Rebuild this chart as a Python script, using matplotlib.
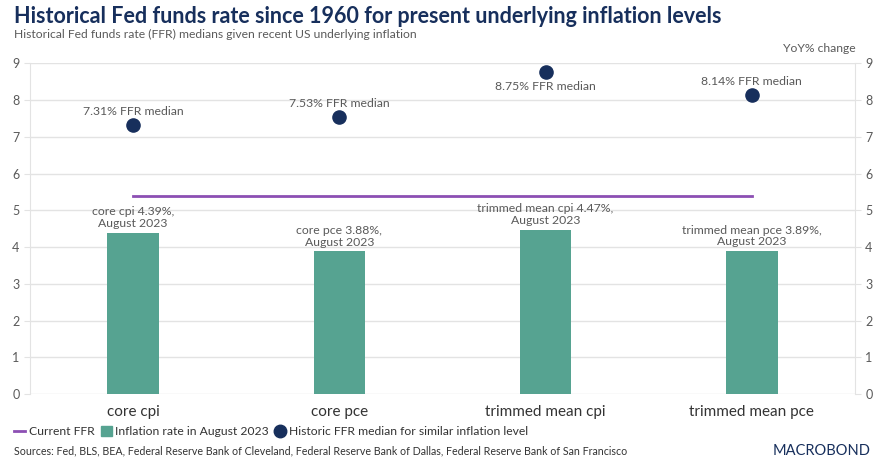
import matplotlib

matplotlib.use("Agg")
import matplotlib.pyplot as plt
from matplotlib.lines import Line2D
from matplotlib.patches import Patch
import numpy as np

plt.rcParams["font.family"] = ["Lato", "DejaVu Sans"]

categories = ["core cpi", "core pce", "trimmed mean cpi", "trimmed mean pce"]
inflation = [4.39, 3.88, 4.47, 3.89]
ffr_median = [7.31, 7.53, 8.75, 8.14]
current_ffr = 5.38
bar_labels = ["core cpi 4.39%,\nAugust 2023", "core pce 3.88%,\nAugust 2023",
              "trimmed mean cpi 4.47%,\nAugust 2023", "trimmed mean pce 3.89%,\nAugust 2023"]
dot_labels = ["7.31% FFR median", "7.53% FFR median", "8.75% FFR median", "8.14% FFR median"]
dot_label_below = [False, False, True, False]

NAVY = "#172f5c"
GREEN = "#56a391"
PURPLE = "#8c4fb3"
GREY = "#5a5a5a"
GRID = "#e3e3e3"

fig = plt.figure(figsize=(8.84, 4.72), dpi=100)
ax = fig.add_axes([0.034, 0.165, 0.933, 0.701])
x = np.arange(len(categories))

ax.bar(x, inflation, width=0.25, color=GREEN, zorder=2)
ax.plot([x[0], x[-1]], [current_ffr, current_ffr], color=PURPLE, lw=2, zorder=3)
ax.scatter(x, ffr_median, s=90, color=NAVY, zorder=4)

for xi, v, lab in zip(x, inflation, bar_labels):
    ax.text(xi, v + 0.1, lab, ha="center", va="bottom", fontsize=8.8,
            color=GREY, linespacing=1.1)
for xi, v, lab, below in zip(x, ffr_median, dot_labels, dot_label_below):
    if below:
        ax.text(xi, v - 0.22, lab, ha="center", va="top", fontsize=8.8, color=GREY)
    else:
        ax.text(xi, v + 0.22, lab, ha="center", va="bottom", fontsize=8.8, color=GREY)

ax.set_xlim(-0.5, len(categories) - 0.5)
ax.set_ylim(0, 9)
ax.set_yticks(range(10))
ax.set_xticks(x)
ax.set_xticklabels(categories, fontsize=11, color="#333333")
ax.tick_params(axis="x", length=0, pad=8)
ax.tick_params(axis="y", length=4, color=GRID, labelsize=9, labelcolor=GREY,
               left=True, right=True, labelleft=True, labelright=True)
ax.grid(axis="y", color=GRID, lw=1, zorder=0)
for side in ["top", "bottom"]:
    ax.spines[side].set_visible(False)
for side in ["left", "right"]:
    ax.spines[side].set_color(GRID)
ax.set_axisbelow(True)

fig.text(0.016, 0.965, "Historical Fed funds rate since 1960 for present underlying inflation levels",
         fontsize=15.5, fontweight="bold", color=NAVY, va="center")
fig.text(0.016, 0.926, "Historical Fed funds rate (FFR) medians given recent US underlying inflation",
         fontsize=8.7, color=GREY, va="center")
fig.text(0.968, 0.898, "YoY% change", fontsize=8.7, color=GREY, ha="right", va="center")

handles = [
    Line2D([], [], color=PURPLE, lw=2),
    Patch(color=GREEN),
    Line2D([], [], marker="o", color=NAVY, ls="none", markersize=9),
]
labels = ["Current FFR", "Inflation rate in August 2023", "Historic FFR median for similar inflation level"]
fig.legend(handles, labels, loc="center left", bbox_to_anchor=(0.004, 0.085), ncol=3,
           frameon=False, fontsize=8.7, handlelength=0.9, handleheight=0.9,
           handletextpad=0.3, columnspacing=0.5, labelcolor="#333333")

fig.text(0.016, 0.044, "Sources: Fed, BLS, BEA, Federal Reserve Bank of Cleveland, Federal Reserve Bank of Dallas, "
         "Federal Reserve Bank of San Francisco", fontsize=7.7, color="#333333", va="center")
fig.text(0.985, 0.044, "MACROBOND", fontsize=10.5, color=NAVY, ha="right", va="center")

fig.savefig("out.png", dpi=100)
